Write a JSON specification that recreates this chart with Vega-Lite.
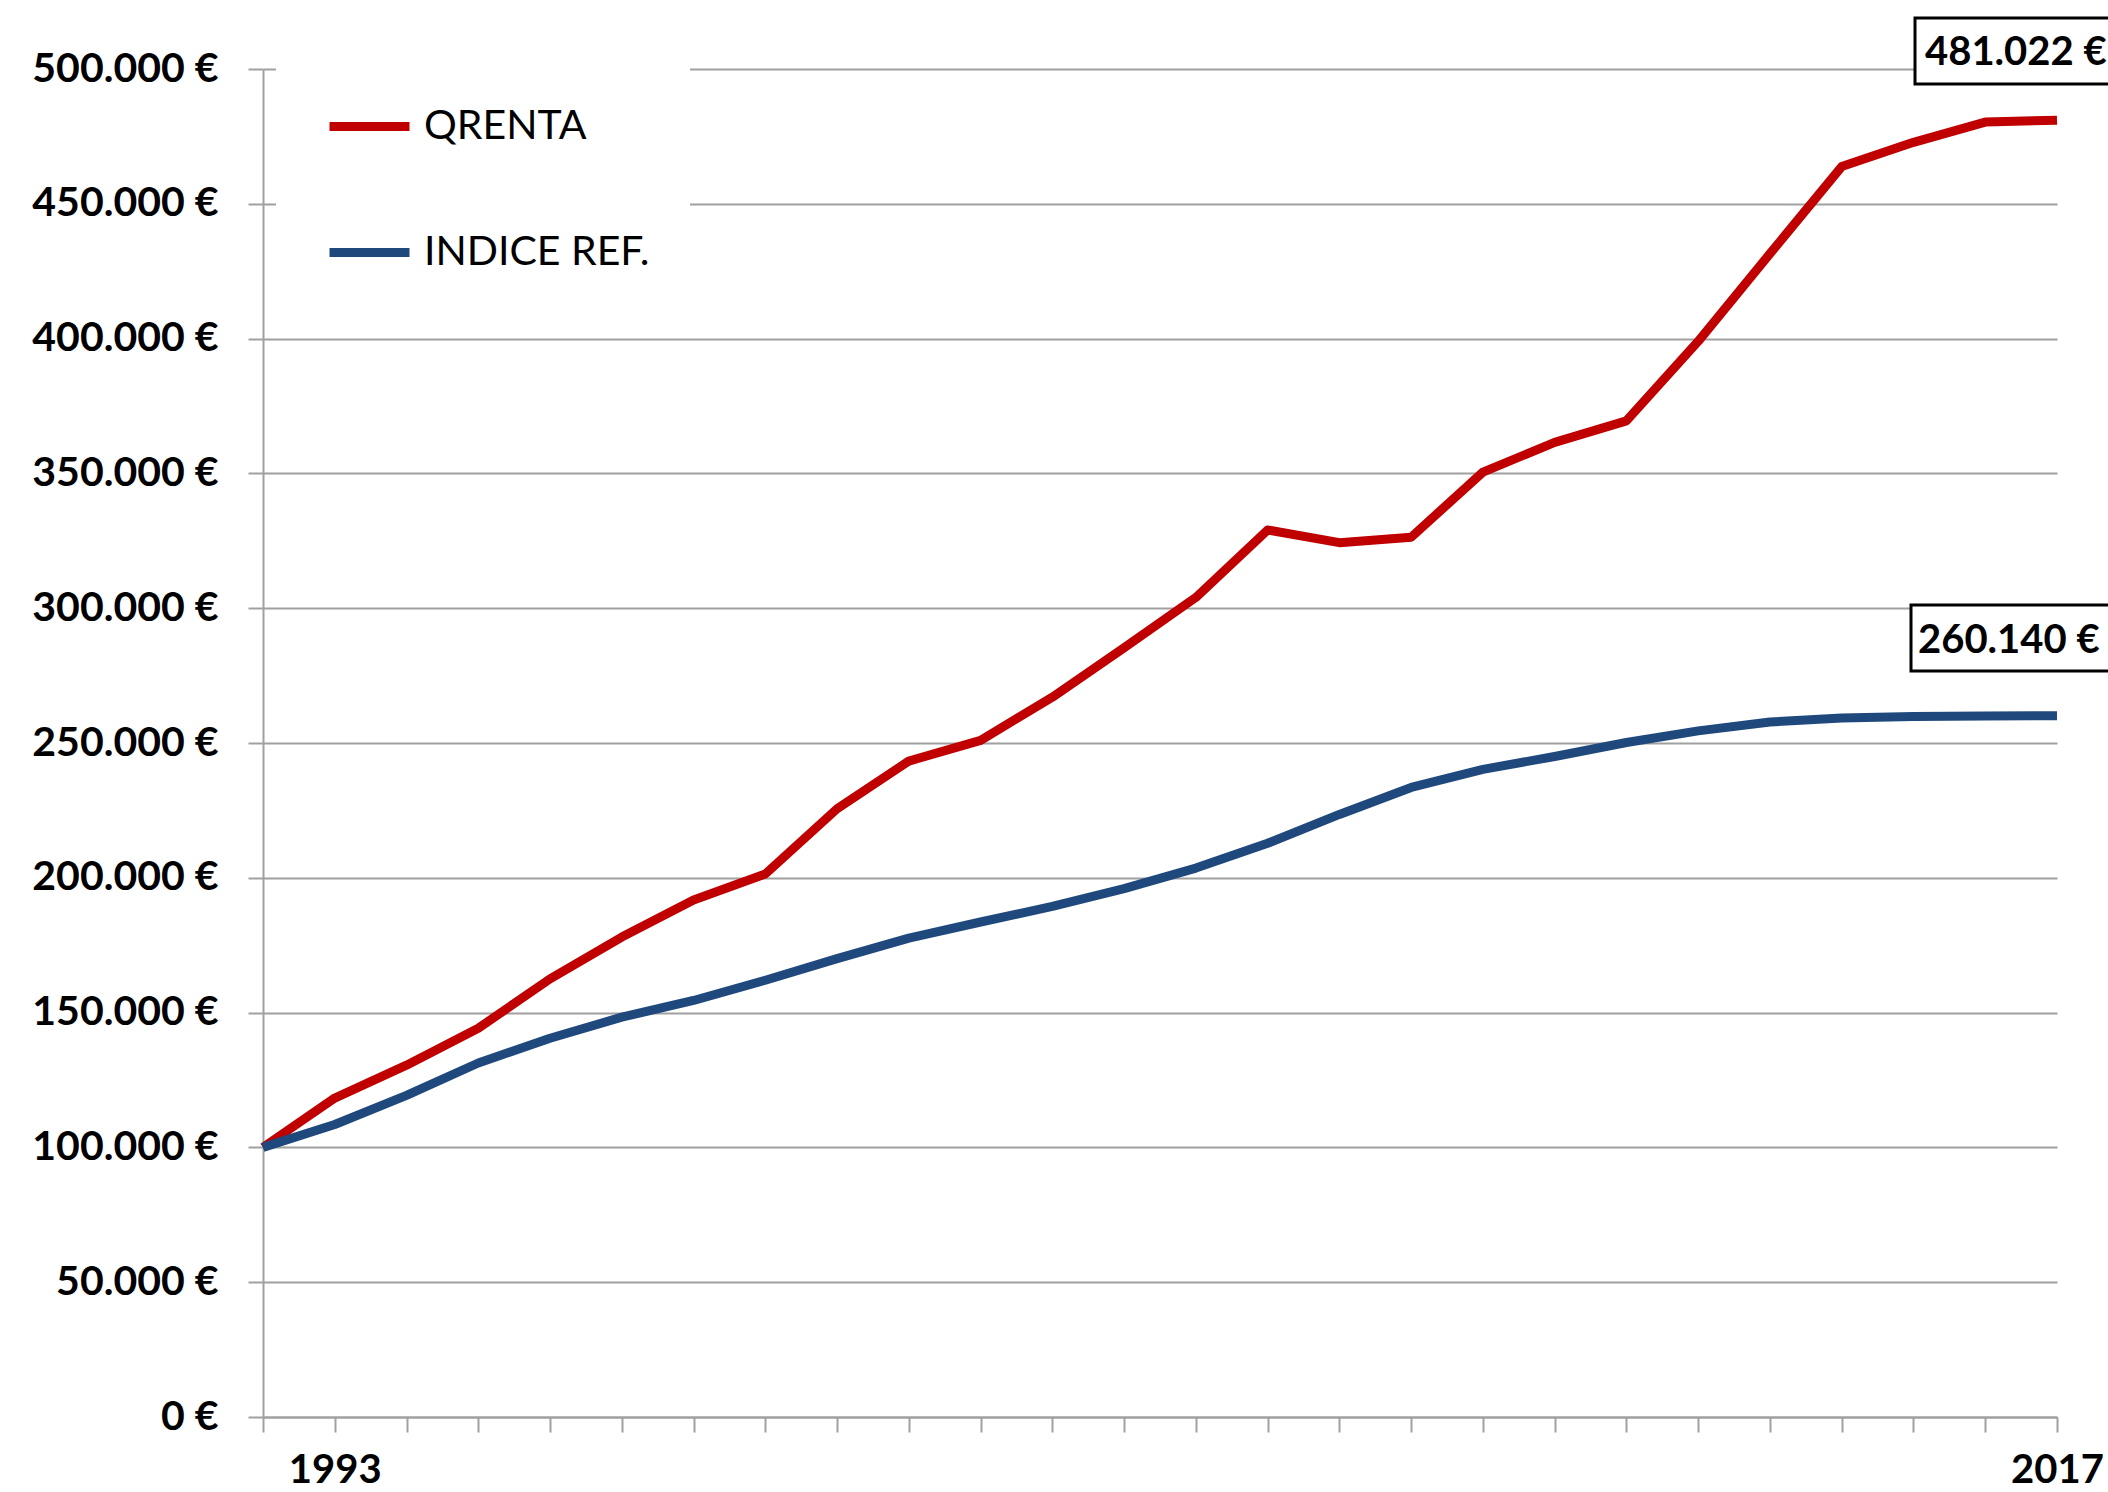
{
  "$schema": "https://vega.github.io/schema/vega-lite/v6.json",
  "width": 1794,
  "height": 1348,
  "autosize": {"type": "none"},
  "padding": {"left": 263, "top": 69, "right": 51, "bottom": 75},
  "background": "white",
  "config": {"view": {"stroke": null}, "font": "Lato"},
  "datasets": {
    "series": [
      {"year": 1992, "serie": "QRENTA", "value": 100000},
      {"year": 1993, "serie": "QRENTA", "value": 118300},
      {"year": 1994, "serie": "QRENTA", "value": 130500},
      {"year": 1995, "serie": "QRENTA", "value": 144200},
      {"year": 1996, "serie": "QRENTA", "value": 162500},
      {"year": 1997, "serie": "QRENTA", "value": 178000},
      {"year": 1998, "serie": "QRENTA", "value": 191800},
      {"year": 1999, "serie": "QRENTA", "value": 201400},
      {"year": 2000, "serie": "QRENTA", "value": 225600},
      {"year": 2001, "serie": "QRENTA", "value": 243300},
      {"year": 2002, "serie": "QRENTA", "value": 251000},
      {"year": 2003, "serie": "QRENTA", "value": 267000},
      {"year": 2004, "serie": "QRENTA", "value": 285300},
      {"year": 2005, "serie": "QRENTA", "value": 304000},
      {"year": 2006, "serie": "QRENTA", "value": 329000},
      {"year": 2007, "serie": "QRENTA", "value": 324300},
      {"year": 2008, "serie": "QRENTA", "value": 326300},
      {"year": 2009, "serie": "QRENTA", "value": 350500},
      {"year": 2010, "serie": "QRENTA", "value": 361500},
      {"year": 2011, "serie": "QRENTA", "value": 369500},
      {"year": 2012, "serie": "QRENTA", "value": 399000},
      {"year": 2013, "serie": "QRENTA", "value": 431500},
      {"year": 2014, "serie": "QRENTA", "value": 463800},
      {"year": 2015, "serie": "QRENTA", "value": 472800},
      {"year": 2016, "serie": "QRENTA", "value": 480300},
      {"year": 2017, "serie": "QRENTA", "value": 481022},
      {"year": 1992, "serie": "INDICE REF.", "value": 100000},
      {"year": 1993, "serie": "INDICE REF.", "value": 108500},
      {"year": 1994, "serie": "INDICE REF.", "value": 119300},
      {"year": 1995, "serie": "INDICE REF.", "value": 131300},
      {"year": 1996, "serie": "INDICE REF.", "value": 140500},
      {"year": 1997, "serie": "INDICE REF.", "value": 148300},
      {"year": 1998, "serie": "INDICE REF.", "value": 154500},
      {"year": 1999, "serie": "INDICE REF.", "value": 162000},
      {"year": 2000, "serie": "INDICE REF.", "value": 170000},
      {"year": 2001, "serie": "INDICE REF.", "value": 177600},
      {"year": 2002, "serie": "INDICE REF.", "value": 183600},
      {"year": 2003, "serie": "INDICE REF.", "value": 189400},
      {"year": 2004, "serie": "INDICE REF.", "value": 196000},
      {"year": 2005, "serie": "INDICE REF.", "value": 203600},
      {"year": 2006, "serie": "INDICE REF.", "value": 212800},
      {"year": 2007, "serie": "INDICE REF.", "value": 223500},
      {"year": 2008, "serie": "INDICE REF.", "value": 233500},
      {"year": 2009, "serie": "INDICE REF.", "value": 240200},
      {"year": 2010, "serie": "INDICE REF.", "value": 245000},
      {"year": 2011, "serie": "INDICE REF.", "value": 250200},
      {"year": 2012, "serie": "INDICE REF.", "value": 254500},
      {"year": 2013, "serie": "INDICE REF.", "value": 257800},
      {"year": 2014, "serie": "INDICE REF.", "value": 259300},
      {"year": 2015, "serie": "INDICE REF.", "value": 259800},
      {"year": 2016, "serie": "INDICE REF.", "value": 260000},
      {"year": 2017, "serie": "INDICE REF.", "value": 260140}
    ],
    "ann": [
      {"year": 2017, "value": 481022, "label": "481.022 €"},
      {"year": 2017, "value": 260140, "label": "260.140 €"}
    ]
  },
  "layer": [
    {
      "data": {"name": "series"},
      "mark": {"type": "line", "strokeWidth": 9, "strokeJoin": "round", "strokeCap": "butt"},
      "encoding": {
        "x": {
          "field": "year", "type": "quantitative", "title": null,
          "scale": {"domain": [1992, 2017], "nice": false, "zero": false},
          "axis": {
            "title": null,
            "values": [1992,1993,1994,1995,1996,1997,1998,1999,2000,2001,2002,2003,2004,2005,2006,2007,2008,2009,2010,2011,2012,2013,2014,2015,2016,2017],
            "format": "d",
            "labelExpr": "datum.value == 1993 || datum.value == 2017 ? datum.label : ''",
            "grid": false,
            "tickSize": 15, "tickColor": "#A0A0A0", "tickWidth": 2,
            "domainColor": "#A0A0A0", "domainWidth": 2,
            "labelFont": "Lato", "labelFontSize": 40, "labelFontWeight": "bold", "labelColor": "#000000",
            "labelPadding": 18, "labelOverlap": false, "labelFlush": false, "labelBound": false, "labelLimit": 400
          }
        },
        "y": {
          "field": "value", "type": "quantitative", "title": null,
          "scale": {"domain": [0, 500000], "nice": false},
          "axis": {
            "title": null,
            "values": [0,50000,100000,150000,200000,250000,300000,350000,400000,450000,500000],
            "labelExpr": "replace(format(datum.value, ',d'), ',', '.') + ' €'",
            "grid": true, "gridColor": "#A0A0A0", "gridWidth": 2,
            "tickSize": 15, "tickColor": "#A0A0A0", "tickWidth": 2,
            "domainColor": "#A0A0A0", "domainWidth": 2,
            "labelFont": "Lato", "labelFontSize": 41, "labelFontWeight": "bold", "labelColor": "#000000",
            "labelPadding": 30, "labelOverlap": false, "labelLimit": 400
          }
        },
        "color": {
          "field": "serie", "type": "nominal",
          "scale": {"domain": ["QRENTA", "INDICE REF."], "range": ["#C00000", "#1F497D"]},
          "legend": {
            "title": null, "orient": "none", "legendX": 13, "legendY": -27,
            "symbolType": "stroke", "symbolSize": 6400, "symbolStrokeWidth": 9, "symbolOffset": 9,
            "labelFont": "Lato", "labelFontSize": 41, "labelColor": "#000000", "labelOffset": 10, "labelLimit": 500,
            "rowPadding": 61, "padding": 40, "fillColor": "white"
          }
        }
      }
    },
    {
      "data": {"name": "ann"},
      "transform": [{"filter": "datum.label == '481.022 €'"}],
      "mark": {"type": "point", "shape": "M-1,-0.22H1V0.22H-1Z", "size": 90000, "filled": true, "fill": "white", "stroke": "black", "strokeWidth": 3, "opacity": 1, "xOffset": 8, "yOffset": -69.2},
      "encoding": {
        "x": {"field": "year", "type": "quantitative", "title": null},
        "y": {"field": "value", "type": "quantitative", "title": null}
      }
    },
    {
      "data": {"name": "ann"},
      "transform": [{"filter": "datum.label == '481.022 €'"}],
      "mark": {"type": "text", "font": "Lato", "fontSize": 40, "fontWeight": "bold", "align": "left", "baseline": "alphabetic", "dx": -132, "dy": -55.2, "color": "#000000"},
      "encoding": {
        "x": {"field": "year", "type": "quantitative", "title": null},
        "y": {"field": "value", "type": "quantitative", "title": null},
        "text": {"field": "label"}
      }
    },
    {
      "data": {"name": "ann"},
      "transform": [{"filter": "datum.label == '260.140 €'"}],
      "mark": {"type": "point", "shape": "M-1,-0.22H1V0.22H-1Z", "size": 90000, "filled": true, "fill": "white", "stroke": "black", "strokeWidth": 3, "opacity": 1, "xOffset": 4, "yOffset": -77.6},
      "encoding": {
        "x": {"field": "year", "type": "quantitative", "title": null},
        "y": {"field": "value", "type": "quantitative", "title": null}
      }
    },
    {
      "data": {"name": "ann"},
      "transform": [{"filter": "datum.label == '260.140 €'"}],
      "mark": {"type": "text", "font": "Lato", "fontSize": 40, "fontWeight": "bold", "align": "left", "baseline": "alphabetic", "dx": -139, "dy": -62.6, "color": "#000000"},
      "encoding": {
        "x": {"field": "year", "type": "quantitative", "title": null},
        "y": {"field": "value", "type": "quantitative", "title": null},
        "text": {"field": "label"}
      }
    }
  ]
}
